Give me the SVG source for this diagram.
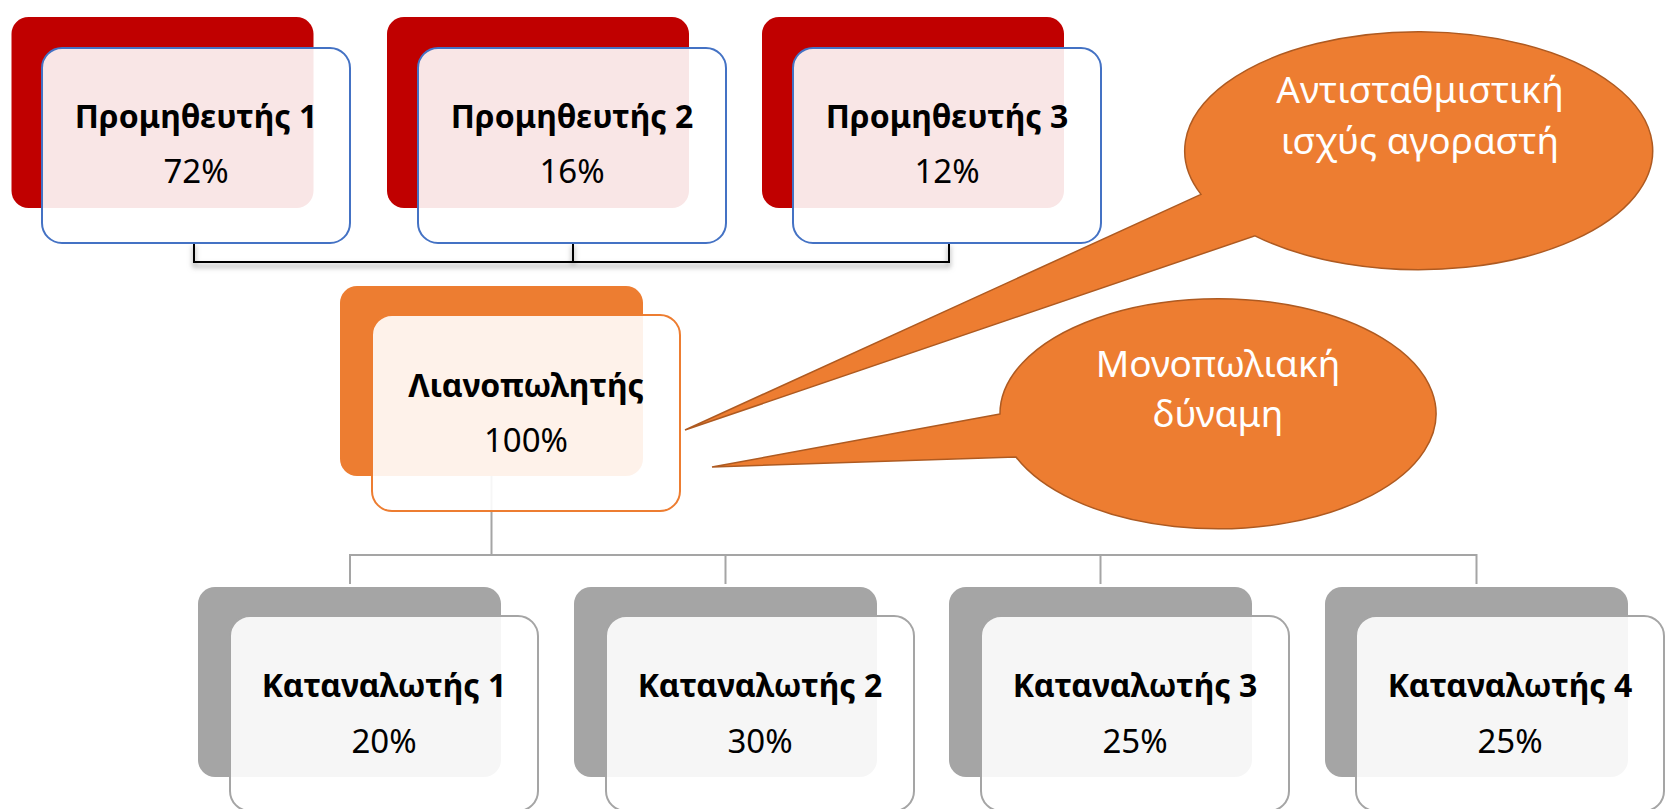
<svg xmlns="http://www.w3.org/2000/svg" width="1669" height="809" viewBox="0 0 1669 809">
  <style>
    .bg-red { fill: #C00000; }
    .bg-org { fill: #ED7D31; }
    .bg-gry { fill: #A5A5A5; }
    .front { fill: #FFFFFF; fill-opacity: 0.9; stroke-width: 2; }
    .fr-blue { stroke: #4472C4; }
    .fr-org { stroke: #ED7D31; }
    .fr-gry { stroke: #A5A5A5; }
    .lbl { font-family: "Noto Sans", "Open Sans", sans-serif; font-weight: bold; font-size: 32px; fill: #000; text-anchor: middle; }
    .pct { font-family: "Noto Sans", "Open Sans", sans-serif; font-size: 33px; fill: #000; text-anchor: middle; }
    .call { fill: #ED7D31; stroke: #AE5A21; stroke-width: 1.5; }
    .ctxt { font-family: "Noto Sans", "Open Sans", sans-serif; font-size: 37px; fill: #FFFFFF; text-anchor: middle; }
    .blk { fill: none; stroke: #000; stroke-width: 2; }
    .gline { fill: none; stroke: #A5A5A5; stroke-width: 2; }
  </style>
  <defs>
    <filter id="sh" x="-5%" y="-50%" width="110%" height="200%">
      <feGaussianBlur stdDeviation="2.5"/>
    </filter>
  </defs>
  <rect width="1669" height="809" fill="#FFFFFF"/>

  <g id="connectors">
    <path d="M194,246 V266 H949 V246 M573,246 V266" fill="none" stroke="#B0B0B0" stroke-width="3" filter="url(#sh)"/>
    <path class="blk" d="M194,243 V262 H949 V243 M573,243 V262"/>
    <path class="gline" d="M491.5,476 V555 M350,584 V555 H1476.5 V584 M725.5,555 V584 M1100.5,555 V584"/>
  </g>

  <g id="supplier1">
    <rect class="bg-red" x="11.5" y="17" width="302" height="191" rx="17"/>
    <rect class="front fr-blue" x="42" y="48" width="308" height="195" rx="20"/>
    <text class="lbl" x="196" y="128">Προμηθευτής 1</text>
    <text class="pct" x="196" y="183">72%</text>
  </g>
  <g id="supplier2">
    <rect class="bg-red" x="387" y="17" width="302" height="191" rx="17"/>
    <rect class="front fr-blue" x="418" y="48" width="308" height="195" rx="20"/>
    <text class="lbl" x="572" y="128">Προμηθευτής 2</text>
    <text class="pct" x="572" y="183">16%</text>
  </g>
  <g id="supplier3">
    <rect class="bg-red" x="762" y="17" width="302" height="191" rx="17"/>
    <rect class="front fr-blue" x="793" y="48" width="308" height="195" rx="20"/>
    <text class="lbl" x="947" y="128">Προμηθευτής 3</text>
    <text class="pct" x="947" y="183">12%</text>
  </g>

  <g id="retailer">
    <rect class="bg-org" x="340" y="286" width="303" height="190" rx="17"/>
    <rect class="front fr-org" x="372" y="315" width="308" height="196" rx="20"/>
    <text class="lbl" x="526" y="397">Λιανοπωλητής</text>
    <text class="pct" x="526" y="452">100%</text>
  </g>

  <g id="consumer1">
    <rect class="bg-gry" x="198" y="587" width="303" height="190" rx="17"/>
    <rect class="front fr-gry" x="230" y="616" width="308" height="195" rx="20"/>
    <text class="lbl" x="384" y="697">Καταναλωτής 1</text>
    <text class="pct" x="384" y="753">20%</text>
  </g>
  <g id="consumer2">
    <rect class="bg-gry" x="574" y="587" width="303" height="190" rx="17"/>
    <rect class="front fr-gry" x="606" y="616" width="308" height="195" rx="20"/>
    <text class="lbl" x="760" y="697">Καταναλωτής 2</text>
    <text class="pct" x="760" y="753">30%</text>
  </g>
  <g id="consumer3">
    <rect class="bg-gry" x="949" y="587" width="303" height="190" rx="17"/>
    <rect class="front fr-gry" x="981" y="616" width="308" height="195" rx="20"/>
    <text class="lbl" x="1135" y="697">Καταναλωτής 3</text>
    <text class="pct" x="1135" y="753">25%</text>
  </g>
  <g id="consumer4">
    <rect class="bg-gry" x="1325" y="587" width="303" height="190" rx="17"/>
    <rect class="front fr-gry" x="1356" y="616" width="308" height="195" rx="20"/>
    <text class="lbl" x="1510" y="697">Καταναλωτής 4</text>
    <text class="pct" x="1510" y="753">25%</text>
  </g>

  <g id="callout-buyer">
    <path class="call" d="M1201,194.4 L685,430 L1255,235.8 A234,119 0 1 0 1201,194.4 Z"/>
    <text class="ctxt" x="1420" y="103">Αντισταθμιστική</text>
    <text class="ctxt" x="1420" y="154">ισχύς αγοραστή</text>
  </g>
  <g id="callout-monopoly">
    <path class="call" d="M1000,414 L712,467 L1016,457 A218,115 0 1 0 1000,414 Z"/>
    <text class="ctxt" x="1218" y="377">Μονοπωλιακή</text>
    <text class="ctxt" x="1218" y="427">δύναμη</text>
  </g>
</svg>
